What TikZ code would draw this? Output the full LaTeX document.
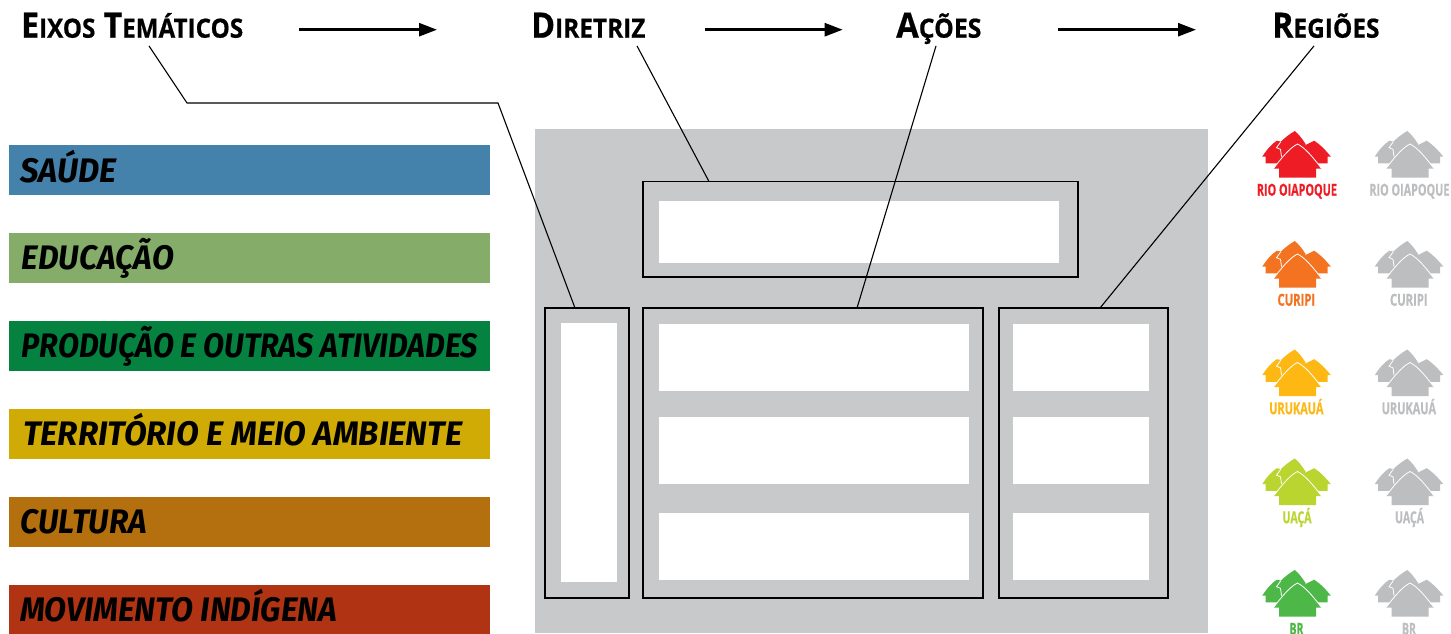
\documentclass[tikz,border=0pt]{standalone}
\usepackage{fontspec}
\usepackage{graphicx}
\setmainfont{Open Sans}
\newfontfamily\brushfont[BoldFeatures={FakeBold=1.2}]{Fira Sans}
\newfontfamily\headfont[BoldFeatures={FakeBold=0.6}]{Open Sans}
\newfontfamily\regfont[BoldFeatures={FakeBold=0.6}]{Open Sans}
\usetikzlibrary{arrows.meta}
\definecolor{panelgray}{HTML}{C8C9CB}
\definecolor{barblue}{HTML}{4481AB}
\definecolor{barlight}{HTML}{85AD69}
\definecolor{bardark}{HTML}{058140}
\definecolor{baryellow}{HTML}{D1AB05}
\definecolor{barbrown}{HTML}{B4700E}
\definecolor{barred}{HTML}{B03313}
\definecolor{icored}{HTML}{EE1C25}
\definecolor{icoorange}{HTML}{F37321}
\definecolor{icoamber}{HTML}{FDB813}
\definecolor{icolime}{HTML}{BBD530}
\definecolor{icogreen}{HTML}{4DB848}
\definecolor{icogray}{HTML}{BCBEC0}
% squeeze a text horizontally to a width given in pt
\newcommand\fitw[2]{\setbox0=\hbox{#2}\pgfmathparse{#1pt/\the\wd0}\edef\fitfactor{\pgfmathresult}\scalebox{\fitfactor}[1]{\box0}}
\newcommand\hsc[2]{{\fontsize{35}{36}\selectfont #1}{\fontsize{26.5}{28}\selectfont #2}}
\tikzset{
  x=1pt,y=-1pt,
  bar/.style={anchor=north west,inner sep=0pt,outer sep=0pt,minimum width=481pt,minimum height=50pt},
  barlabel/.style={anchor=base west,inner sep=0pt,font=\brushfont\bfseries\itshape\fontsize{34}{36}\selectfont,text=black},
  heading/.style={anchor=base west,inner sep=0pt,font=\headfont\bfseries,text height=24pt,text depth=8pt},
  framebox/.style={anchor=north west,draw=black,line width=1.3pt,inner sep=0pt,outer sep=0pt},
  whitebox/.style={anchor=north west,fill=white,inner sep=0pt,outer sep=0pt},
  lead/.style={draw=black,line width=1.1pt},
  flow/.style={draw=black,line width=2.6pt,-{Triangle[length=18pt,width=13pt]}},
  reglabel/.style={anchor=base west,inner sep=0pt,font=\regfont\bfseries\fontsize{16.5}{18}\selectfont},
  regionicon/.pic={
    \fill[pic actions] (-20.7,-3.3) .. controls (-26,0) and (-31,6) .. (-35.3,12.7) -- (-32,12.7) -- (-32,19.3) -- (-10,19.3) -- (-10,-1) -- cycle;
    \fill[pic actions] (16.7,-3.3) .. controls (22,0) and (28,6) .. (33.4,12.7) -- (30,12.7) -- (30,19.3) -- (8,19.3) -- (8,1) -- cycle;
    \fill[pic actions] (-2.7,-13) .. controls (-8,-10) and (-13,-6) .. (-17,-2) -- (-21,3.7) -- (-17,5.3) -- (-16,14) -- (10,14) -- (8,0) .. controls (5,-5) and (1,-10) .. (-2.7,-13) -- cycle;
    \draw[white,line width=.8pt] (-16.7,-2.3) -- (-21,3.7) -- (-17,5.3) -- (-16,12.7);
    \fill[pic actions] (0,0) .. controls (-8,4) and (-16,14) .. (-24,24.5) -- (-18.5,24.5) -- (-18.5,33.5) -- (18.5,33.5) -- (18.5,24.5) -- (24,24.5) .. controls (16,14) and (8,4) .. (0,0) -- cycle;
    \draw[white,line width=.8pt] (-24,24.5) .. controls (-16,14) and (-8,4) .. (0,0) .. controls (8,4) and (16,14) .. (24,24.5);
  }
}
\newcommand\region[6]{% name, dy of icon, label, x offset of label, width, colour
  \pic[fill=#6] at (1297.5,144+#2) {regionicon};
  \node[reglabel,text=#6] (lab#1a) at (#4,195.7+#2) {\fitw{#5}{#3}};
  \pic[fill=icogray] at (1410,144+#2) {regionicon};
  \node[reglabel,text=icogray] (lab#1b) at (#4+112.5,195.7+#2) {\fitw{#5}{#3}};
}
\begin{document}
\begin{tikzpicture}
\useasboundingbox (0,0) rectangle (1451,633);
\fill[white] (0,0) rectangle (1451,633);
% panel
\node[anchor=north west,fill=panelgray,inner sep=0pt,outer sep=0pt,minimum width=673pt,minimum height=504pt] (panel) at (535,129) {};
% coloured bars
\node[bar,fill=barblue]   (b1) at (9,145) {};
\node[bar,fill=barlight]  (b2) at (9,233) {};
\node[bar,fill=bardark]   (b3) at (9,321) {};
\node[bar,fill=baryellow] (b4) at (9,409) {};
\node[bar,fill=barbrown]  (b5) at (9,497) {};
\node[bar,fill=barred]    (b6) at (9,585) {};
\node[barlabel] (t1) at (20,182) {\fitw{96}{SAÚDE}};
\node[barlabel] (t2) at (21.7,269.5) {\fitw{152}{EDUCAÇÃO}};
\node[barlabel] (t3) at (21.7,357.7) {\fitw{456}{PRODUÇÃO E OUTRAS ATIVIDADES}};
\node[barlabel] (t4) at (23,445) {\fitw{439}{TERRITÓRIO E MEIO AMBIENTE}};
\node[barlabel] (t5) at (20.7,533) {\fitw{126}{CULTURA}};
\node[barlabel] (t6) at (20,621.7) {\fitw{317}{MOVIMENTO INDÍGENA}};
% frames
\node[whitebox,minimum width=400pt,minimum height=62pt] (wd) at (659,201) {};
\node[framebox,minimum width=435pt,minimum height=95.5pt] (fd) at (643,181.5) {};
\node[whitebox,minimum width=56pt,minimum height=259pt] (wl) at (561,323) {};
\node[framebox,minimum width=84pt,minimum height=290pt] (fl) at (545,308) {};
\node[whitebox,minimum width=310pt,minimum height=67pt] (wm1) at (659,324) {};
\node[whitebox,minimum width=310pt,minimum height=67pt] (wm2) at (659,417) {};
\node[whitebox,minimum width=310pt,minimum height=67pt] (wm3) at (659,513) {};
\node[framebox,minimum width=340pt,minimum height=290pt] (fm) at (643,308) {};
\node[whitebox,minimum width=136pt,minimum height=67pt] (wr1) at (1013,324) {};
\node[whitebox,minimum width=136pt,minimum height=67pt] (wr2) at (1013,417) {};
\node[whitebox,minimum width=136pt,minimum height=67pt] (wr3) at (1013,513) {};
\node[framebox,minimum width=169pt,minimum height=290pt] (fr) at (999,308) {};
% headings
\node[heading] (eixos) at (21,37.7) {\fitw{222}{\hsc{E}{IXOS}\hspace{9pt}\hsc{T}{EMÁTICOS}}};
\node[heading] (diretriz) at (531,37.7) {\fitw{114.3}{\hsc{D}{IRETRIZ}}};
\node[heading] (acoes) at (896,37.7) {\fitw{85.2}{\hsc{A}{ÇÕES}}};
\node[heading] (regioes) at (1272,37.7) {\fitw{107.3}{\hsc{R}{EGIÕES}}};
% flow arrows
\draw[flow] ([xshift=56pt]eixos.east) -- ([xshift=-94pt]diretriz.west);
\draw[flow] ([xshift=59.7pt]diretriz.east) -- ([xshift=-53.3pt]acoes.west);
\draw[flow] ([xshift=76.8pt]acoes.east) -- ([xshift=-76pt]regioes.west);
% leader lines
\coordinate (elbowa) at (187,103);
\coordinate (elbowb) at (498,103);
\draw[lead] ([xshift=128pt]eixos.south west) -- (elbowa) -- (elbowb) -- ([xshift=30pt]fl.north west);
\draw[lead] ([xshift=106pt]diretriz.south west) -- ([xshift=66pt]fd.north west);
\draw[lead] ([xshift=40pt]acoes.south west) -- ([xshift=214pt]fm.north west);
\draw[lead] ([xshift=42pt]regioes.south west) -- ([xshift=101pt]fr.north west);
% regions
\region{rio}{0}{RIO OIAPOQUE}{1256.7}{80}{icored}
\region{cur}{110}{CURIPI}{1277.3}{37.7}{icoorange}
\region{uru}{218.5}{URUKAUÁ}{1269}{54.3}{icoamber}
\region{uac}{327.5}{UAÇÁ}{1282.3}{29}{icolime}
\region{br}{439}{BR}{1289.3}{14}{icogreen}
\end{tikzpicture}
\end{document}
